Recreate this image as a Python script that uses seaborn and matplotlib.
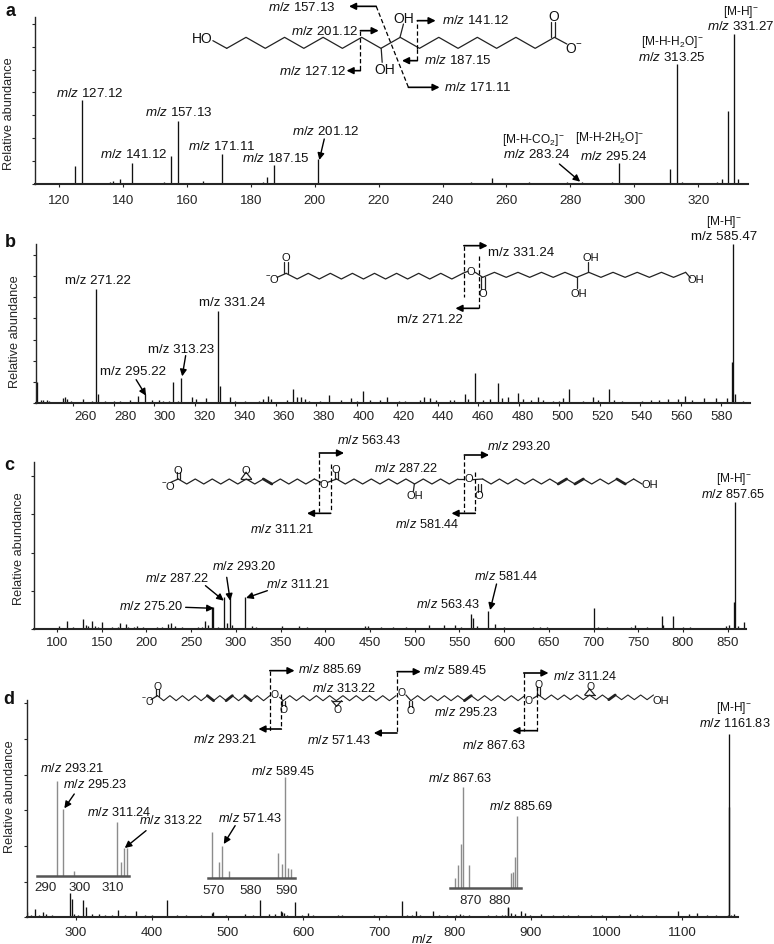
import numpy as np
import pandas as pd
import seaborn as sns
import matplotlib.pyplot as plt
from matplotlib.transforms import ScaledTranslation

# main peaks, heights in % of the base peak
a_mz = [125.1, 127.12, 137, 139, 143, 155, 157.13, 165, 171.11, 185, 187.15, 201.12, 249, 255.5, 267, 283.5, 285, 293, 295.24, 311.3, 313.25, 315, 327.5, 329.3, 331.27, 332.5]
a_h = [12, 55.8, 2.5, 3.5, 14, 19, 42, 2.5, 20, 5, 13, 17, 1.3, 4, 1.8, 1.5, 1, 1.5, 14, 10, 80, 1.5, 3.3, 49, 100, 3.3]
a_noise_mz = [114, 116, 118, 121, 123, 129, 131, 134, 136, 141, 146, 149, 152, 153, 160, 163, 167, 169, 174, 177, 179, 183, 184, 192, 195, 199, 203, 207, 212, 218, 223, 228, 233, 238, 243, 247, 252, 258, 262, 271, 275, 279, 289, 301, 305, 309, 318, 322, 326]
a_noise_h = [.6, .5, .7, .6, .5, .8, .5, .6, 1.5, .7, .8, .6, .7, 1.6, .8, .9, 1, .8, .7, .6, .9, 1.1, 1.2, .7, .6, 1, .7, .5, .6, .7, .5, .6, .5, .7, .6, .8, .9, .7, .8, 1.1, .7, 1.2, .8, .7, .6, 1, .9, .7, 1.2]

b_mz = [242.1, 271.22, 272, 292.1, 295.22, 309.3, 313.23, 331.24, 332.3, 337.2, 355.9, 368.6, 386.3, 402.9, 414.7, 433.4, 453.4, 458.4, 469.6, 474.5, 479.4, 489.2, 504.5, 516.7, 524.5, 561.8, 571.6, 577.5, 585.25, 585.47, 586.8]
b_h = [13, 71.7, 5.6, 4.5, 5.6, 13, 16, 58, 10.5, 3.5, 4.6, 8.8, 5, 7.8, 4, 4, 5.7, 18.9, 12.4, 4, 6.3, 4, 9, 4, 9, 4.6, 3, 3, 26, 100, 5.5]
b_noise_mz = [244, 245, 247, 248, 255, 256, 257, 259, 265, 269, 275.5, 280, 283, 288, 299, 302.5, 304.5, 307.5, 311.5, 318.5, 320.5, 325.5, 340, 345, 351.5, 353.5, 357.5, 365.5, 370.5, 372.5, 374.5, 376.5, 382, 392, 397, 400, 406.5, 411.5, 421, 424, 431, 436, 439, 446, 448, 455, 462.5, 465.5, 471.5, 482, 486, 492, 497, 500, 502, 511.5, 519, 527, 531, 541, 545, 549, 553.5, 558.5, 565.5, 582.5, 590.5]
b_noise_h = [2, 2.2, 2, 1.5, 3, 3.8, 2.5, 1.5, 2.5, 1, 1, 1, 1.5, 2, 2, 2, 1, 1, 1.5, 3.5, 2.5, 3, 1.5, 1.5, 1.5, 2.5, 2.5, 2, 3.5, 3.5, 2.5, 1.5, 1.2, 2, 3, 1.5, 2, 2, 1.5, 1.5, 2, 3, 2, 2, 2, 2.5, 2, 2.5, 3, 2.5, 2, 2, 1.5, 1.5, 3, 1.5, 2, 2, 1.5, 1.5, 2, 2, 2.5, 2.5, 2, 3, 1.5]

c_mz = [111, 129, 139, 150, 170, 177.5, 227, 266, 273, 275, 287, 290, 293.5, 310.4, 563, 565, 581.7, 590, 700.8, 777, 778, 789, 857.3, 857.65, 868.5]
c_h = [6.5, 8, 6, 5.8, 5, 4, 5, 6.3, 17, 17, 25, 5, 26, 25, 12, 9, 14.4, 4, 16.8, 10.5, 3, 10.5, 21, 100, 5.2]
c_noise_mz = [88, 95, 102, 118, 125, 132, 135, 142, 146, 155, 162, 168, 180, 186, 190, 196, 204, 212, 218, 224, 232, 240, 248, 258, 262, 269, 280, 296, 318, 323, 330, 338, 352, 371, 380, 396, 405, 445, 448, 462, 476, 490, 516, 533, 545, 552, 570, 600, 612, 632, 640, 648, 660, 680, 705, 715, 728, 742, 746, 760, 800, 808, 818, 848, 852, 862]
c_noise_h = [1, 1, 2, 1.5, 1, 3, 2, 2, 1.5, 1, 1.5, 1.5, 1.5, 1.5, 2.5, 1.5, 1, 1.5, 1.5, 4, 2, 1.5, 1, 1.5, 1.5, 3, 1.5, 3, 2, 1.5, 1, 1, 2.5, 2.5, 1.5, 1, 1, 2.5, 2, 1.5, 1.5, 1.5, 3.5, 3, 3, 1.5, 2.5, 1.5, 1, 1.5, 1.5, 1.5, 1, 1, 1.5, 1.2, 1, 1.5, 3, 1.2, 1.5, 1.2, 1, 2, 3, 2.5]

d_mz = [236, 245.6, 256.6, 292.7, 294.2, 309.2, 313.7, 329.8, 354.9, 378.9, 420, 480, 481, 542.3, 555.3, 570, 572, 589.4, 606.4, 729.6, 748.8, 770.8, 806.9, 870, 870.4, 887, 892, 1094.5, 1161.6, 1161.83, 1168]
d_h = [3, 4.5, 3, 13, 10, 9.6, 5.5, 2, 4.2, 3.6, 9.6, 2.5, 3, 9.6, 2, 3.5, 3, 8.2, 2.5, 8.7, 3.6, 3.6, 2, 5.5, 5, 3.6, 2.5, 3.2, 60, 100, 2]
d_noise_mz = [241, 251, 261, 269, 297.8, 302.8, 320.8, 338.9, 346.9, 364.9, 391, 401, 433, 445, 465, 498, 523, 533, 563, 575, 578, 598, 613, 646, 651, 693.5, 708.5, 736.6, 743.7, 753.8, 778.9, 789, 802, 811, 819, 844, 854, 862, 866, 874, 879, 899.2, 914.2, 929.3, 942.4, 949.4, 962.5, 979.5, 994.6, 1016.7, 1030.8, 1040, 1046.8, 1065, 1109.5, 1119.6, 1132.7, 1144.7, 1159.8, 1165]
d_noise_h = [1.5, 1.5, 2, 1, 2, 1.5, 2, 1, 1, 1, 1.5, 1, 1.5, 1, 1, 1, 2, 1.5, 2, 2.5, 1.5, 1.5, 1.5, 1, 1, 1, 1, 1, 1, 1.5, 1, 1, 1.5, 1.5, 1, 1, 1, 1, 1.5, 2.5, 2, 1.5, 2, 1, 1.5, 1.5, 1.5, 1.5, 1.5, 1, 2, 1.5, 1.5, 1.5, 2, 2.5, 1.5, 1.5, 1.5, 1.5]

# zoomed insets of panel d
i1_mz = [293.21, 295.23, 298.5, 311.24, 312.5, 313.5, 314.3]
i1_h = [95, 67, 5, 54, 14, 28, 28]
i2_mz = [569.4, 571.43, 572.3, 574, 587.6, 588.7, 589.45, 590.4, 591]
i2_h = [46, 16, 32, 7, 25, 14, 101, 10, 9]
i3_mz = [865, 865.8, 867, 867.63, 869.7, 883.8, 884.5, 885.2, 885.69]
i3_h = [10, 23, 44, 101, 23, 15, 16, 31, 72]

W, H = 774, 945

sns.set_style("ticks")
plt.rcParams["font.family"] = ["Liberation Sans", "DejaVu Sans"]
plt.rcParams["mathtext.fontset"] = "custom"
plt.rcParams["mathtext.rm"] = "Liberation Sans"
plt.rcParams["mathtext.it"] = "Liberation Sans:italic"
plt.rcParams["mathtext.bf"] = "Liberation Sans:bold"

fig = plt.figure(figsize=(W / 100, H / 100), dpi=100)


def pix_axes(left, right, top, bottom):
    return fig.add_axes([left / W, 1 - bottom / H, (right - left) / W, (bottom - top) / H])


def sticks(ax, mz, h, color="#111111", lw=0.95):
    df = pd.DataFrame({"mz": np.repeat(mz, 2),
                       "y": np.column_stack([np.zeros(len(h)), h]).ravel(),
                       "peak": np.repeat(np.arange(len(mz)), 2)})
    sns.lineplot(data=df, x="mz", y="y", units="peak", estimator=None, color=color,
                 lw=lw, ax=ax, legend=False, solid_capstyle="butt")
    ax.set_xlabel("")
    ax.set_ylabel("")


def panel(mz, h, nmz, nh, box, xlim, xt, ystep, base_top, pad=4):
    left, right, top, bottom = box
    ax = pix_axes(left, right, top, bottom)
    sticks(ax, mz + nmz, h + nh)
    ax.set_xlim(*xlim)
    ymax = (bottom - top) / (bottom - base_top) * 100
    ax.set_ylim(0, ymax)
    ax.set_xticks(xt)
    ax.set_yticks(np.arange(0, ymax, ystep))
    ax.set_yticklabels([])
    ax.tick_params(axis="x", labelsize=9.6, length=2.2, width=0.8, pad=pad, color="#222222")
    ax.tick_params(axis="y", length=2.5, width=0.8)
    ax.spines["left"].set_linewidth(1.0)
    ax.spines["bottom"].set_linewidth(1.5)
    sns.despine(ax=ax)
    ax.patch.set_alpha(0)
    return ax


def inset(mz, h, box, xlim, xt):
    ax = pix_axes(*box)
    sticks(ax, mz, h, color="#8c8c8c", lw=1.0)
    ax.set_xlim(*xlim)
    ax.set_ylim(0, 110)
    ax.set_xticks(xt)
    ax.set_yticks([])
    ax.tick_params(axis="x", labelsize=9.6, length=0, pad=4)
    ax.spines["bottom"].set_linewidth(1.8)
    ax.spines["bottom"].set_color("#555555")
    sns.despine(ax=ax, left=True)
    ax.patch.set_alpha(0)
    return ax


panel(a_mz, a_h, a_noise_mz, a_noise_h, (34.6, 747.5, 18, 185.3), (112.4, 335.4),
      np.arange(120, 321, 20), 15.27, 35, pad=5)
ax_b = panel(b_mz, b_h, b_noise_mz, b_noise_h, (35.6, 750, 245, 404), (241.4, 594.1),
             np.arange(260, 581, 20), 13.3, 245, pad=2.5)
# tick labels of b sit to the right of their ticks, more so on the left side
for t, lab in zip(ax_b.get_xticks(), ax_b.get_xticklabels()):
    shift = 12 * (580 - t) / 320 / 100
    lab.set_transform(lab.get_transform() + ScaledTranslation(shift, 0, fig.dpi_scale_trans))
panel(c_mz, c_h, c_noise_mz, c_noise_h, (33.7, 746, 462.7, 630), (74, 870.5),
      np.arange(100, 851, 50), 30, 502.7, pad=3)
panel(d_mz, d_h, d_noise_mz, d_noise_h, (26.7, 738, 700.7, 918.3), (235, 1173.6),
      np.arange(300, 1101, 100), 19.45, 735, pad=4)

inset(i1_mz, i1_h, (37, 129, 766.7, 876.7), (287.3, 315), [290, 300, 310])
inset(i2_mz, i2_h, (208, 294.5, 769, 879), (568.36, 592.05), [570, 580, 590])
inset(i3_mz, i3_h, (449.5, 520.5, 779, 889), (863, 887), [870, 880])

# overlay for structures, arrows and labels
ov = fig.add_axes([0, 0, 1, 1], zorder=10)
ov.set_xlim(0, W)
ov.set_ylim(H, 0)
ov.axis("off")


def P(zx, zy, off):
    return zx / 2.02, off + zy / 3


def label(s, zx, zy, off, fs=9.6, **kw):
    x, y = P(zx, zy, off)
    ov.text(x, y, s, fontsize=fs, ha="center", va="center", color="#111111", **kw)


def arrow(z0, z1, off, lw=1.2, ms=10):
    ov.annotate("", xy=P(*z1, off), xytext=P(*z0, off),
                arrowprops=dict(arrowstyle="-|>", lw=lw, color="k", mutation_scale=ms,
                                shrinkA=0, shrinkB=0))


def dash(z0, z1, off):
    x0, y0 = P(*z0, off)
    x1, y1 = P(*z1, off)
    ov.plot([x0, x1], [y0, y1], color="k", lw=0.9, ls=(0, (3.5, 2)))


def bond(z0, z1, off, lw=0.9):
    x0, y0 = P(*z0, off)
    x1, y1 = P(*z1, off)
    ov.plot([x0, x1], [y0, y1], color="#222222", lw=lw)


def chain(x0, y0, x1, y1, n, off, lw=0.9, thick=()):
    xs = np.linspace(x0, x1, n + 1)
    ys = [y0 if i % 2 == 0 else y1 for i in range(n + 1)]
    px = [P(x, y, off) for x, y in zip(xs, ys)]
    ov.plot([p[0] for p in px], [p[1] for p in px], color="#222222", lw=lw)
    # double bonds show up as heavier segments
    for i in thick:
        ov.plot([px[i][0], px[i + 1][0]], [px[i][1], px[i + 1][1]], color="#222222", lw=2.0)


def mzit(v):
    return r"$\mathit{m/z}$ " + v


MH = "[M-H]$^{-}$"

# panel a
off = 0
label("a", 22, 33, off, fs=13, fontweight="bold")
ov.text(*P(19, 342, off), "Relative abundance", fontsize=9.2, rotation=90, ha="center", va="center")
chain(458, 148, 1120, 115, 17, off)
bond((430, 125), (458, 148), off)
bond((808, 115), (815, 75), off)
bond((770, 148), (772, 190), off)
bond((1120, 115), (1145, 135), off)
bond((1113, 115), (1113, 70), off)
bond((1122, 115), (1122, 70), off)
label("HO", 408, 118, off, fs=10)
label("OH", 816, 58, off, fs=10)
label("OH", 778, 210, off, fs=10)
label("O", 1118, 52, off, fs=10)
label("O$^{-}$", 1160, 147, off, fs=10)
for s, x, y in [("157.13", 610, 22), ("141.12", 960, 60), ("201.12", 655, 95), ("187.15", 925, 180),
                ("127.12", 632, 215), ("171.11", 965, 262), ("127.12", 182, 280), ("141.12", 270, 465),
                ("157.13", 360, 338), ("171.11", 448, 440), ("187.15", 558, 477), ("201.12", 657, 395),
                ("283.24", 1085, 465), ("295.24", 1240, 468), ("313.25", 1358, 172), ("331.27", 1497, 78)]:
    label(mzit(s), x, y, off)
label("[M-H-CO$_{2}$]$^{-}$", 1077, 420, off, fs=8.6)
label("[M-H-2H$_{2}$O]$^{-}$", 1232, 413, off, fs=8.6)
label("[M-H-H$_{2}$O]$^{-}$", 1358, 125, off, fs=8.6)
label(MH, 1497, 35, off, fs=8.6)
dash((760, 22), (825, 265), off)
arrow((760, 22), (705, 22), off)
arrow((825, 265), (888, 265), off)
dash((843, 150), (843, 65), off)
arrow((843, 65), (880, 65), off)
dash((728, 95), (728, 215), off)
arrow((728, 95), (765, 95), off)
arrow((728, 215), (700, 215), off)
dash((843, 150), (843, 185), off)
arrow((843, 185), (812, 185), off)
arrow((655, 420), (645, 483), off, lw=1.0)
arrow((1130, 495), (1172, 548), off, lw=1.0)

# panel b
off = 215
label("b", 20, 82, off, fs=13, fontweight="bold")
ov.text(*P(30, 350, off), "Relative abundance", fontsize=9.2, rotation=90, ha="center", va="center")
chain(578, 178, 935, 195, 16, off)
chain(975, 190, 1165, 175, 8, off)
chain(1165, 190, 1385, 175, 9, off)
bond((560, 190), (578, 178), off)
bond((574, 178), (574, 145), off)
bond((581, 178), (581, 145), off)
bond((935, 178), (945, 172), off)
bond((960, 175), (975, 190), off)
bond((972, 190), (972, 225), off)
bond((979, 190), (979, 225), off)
bond((1165, 190), (1165, 222), off)
bond((1188, 175), (1188, 145), off)
bond((1385, 175), (1395, 192), off)
label("$^{-}$O", 550, 192, off, fs=8)
label("O", 577, 130, off, fs=8)
label("O", 952, 172, off, fs=8)
label("O", 975, 237, off, fs=8)
label("OH", 1193, 130, off, fs=8)
label("OH", 1170, 237, off, fs=8)
label("OH", 1405, 195, off, fs=8)
for s, x, y in [("m/z 331.24", 1053, 113), ("m/z 271.22", 868, 315), ("m/z 271.22", 198, 197),
                ("m/z 331.24", 468, 265), ("m/z 313.23", 365, 405), ("m/z 295.22", 268, 470),
                ("m/z 585.47", 1462, 65)]:
    label(s, x, y, off)
label(MH, 1462, 20, off, fs=8.6)
dash((937, 95), (937, 250), off)
arrow((937, 95), (985, 95), off)
dash((967, 125), (967, 283), off)
arrow((967, 283), (920, 283), off)
arrow((375, 425), (368, 487), off, lw=1.0)
arrow((275, 497), (295, 545), off, lw=1.0)

# panel c
off = 430
label("c", 18, 108, off, fs=13, fontweight="bold")
ov.text(*P(38, 355, off), "Relative abundance", fontsize=9.2, rotation=90, ha="center", va="center")
chain(360, 150, 635, 165, 16, off, thick=[10])
chain(680, 150, 925, 165, 14, off)
chain(975, 150, 1280, 165, 18, off, thick=[9, 11, 16])
bond((345, 160), (360, 150), off)
bond((357, 150), (357, 130), off)
bond((363, 150), (363, 130), off)
bond((487, 150), (508, 150), off)
bond((487, 150), (497, 130), off)
bond((508, 150), (497, 130), off)
bond((635, 150), (648, 160), off)
bond((662, 160), (680, 150), off)
bond((677, 150), (677, 130), off)
bond((683, 150), (683, 130), off)
bond((837, 165), (835, 187), off)
bond((925, 150), (938, 150), off)
bond((955, 152), (975, 150), off)
bond((965, 165), (965, 190), off)
bond((971, 165), (971, 190), off)
bond((1280, 150), (1297, 165), off)
label("$^{-}$O", 340, 167, off, fs=8)
label("O", 360, 122, off, fs=8)
label("O", 497, 122, off, fs=8)
label("O", 655, 165, off, fs=8)
label("O", 678, 120, off, fs=8)
label("OH", 838, 198, off, fs=8)
label("O", 947, 148, off, fs=8)
label("O", 967, 197, off, fs=8)
label("OH", 1312, 165, off, fs=8)
for s, x, y in [("563.43", 745, 30), ("293.20", 1050, 48), ("287.22", 820, 115), ("311.21", 570, 298),
                ("581.44", 863, 285), ("287.22", 358, 445), ("293.20", 493, 410), ("311.21", 603, 465),
                ("275.20", 305, 530), ("563.43", 905, 523), ("581.44", 1023, 440), ("857.65", 1480, 195)]:
    label(mzit(s), x, y, off, fs=9.2)
label(MH, 1483, 148, off, fs=8.6)
dash((645, 72), (645, 250), off)
arrow((645, 72), (695, 72), off)
dash((668, 105), (668, 250), off)
arrow((668, 253), (620, 253), off)
dash((938, 78), (938, 250), off)
arrow((938, 78), (988, 78), off)
dash((960, 130), (960, 250), off)
arrow((960, 253), (912, 253), off)
arrow((415, 470), (452, 515), off, lw=1.0)
arrow((458, 445), (465, 515), off, lw=1.0)
arrow((540, 485), (497, 507), off, lw=1.0)
arrow((375, 535), (432, 538), off, lw=1.0)
arrow((1003, 465), (990, 543), off, lw=1.0)

# panel d
off = 660
label("d", 18, 118, off, fs=13, fontweight="bold")
ov.text(*P(20, 410, off), "Relative abundance", fontsize=9.2, rotation=90, ha="center", va="center")
chain(318, 110, 545, 125, 18, off, lw=0.8, thick=[8, 11, 14])
chain(572, 125, 800, 110, 17, off, lw=0.8)
chain(830, 125, 1060, 110, 17, off, lw=0.8, thick=[8])
chain(1088, 108, 1320, 122, 18, off, lw=0.8, thick=[11])
bond((305, 122), (318, 110), off)
bond((315, 110), (315, 90), off)
bond((321, 110), (321, 90), off)
bond((565, 115), (572, 125), off)
bond((569, 125), (569, 142), off)
bond((575, 125), (575, 142), off)
bond((670, 125), (690, 125), off)
bond((670, 125), (680, 142), off)
bond((690, 125), (680, 142), off)
bond((820, 108), (830, 125), off)
bond((827, 125), (827, 145), off)
bond((833, 125), (833, 145), off)
bond((1077, 118), (1088, 108), off)
bond((1085, 108), (1085, 85), off)
bond((1091, 108), (1091, 85), off)
bond((1181, 108), (1201, 108), off)
bond((1181, 108), (1191, 90), off)
bond((1201, 108), (1191, 90), off)
for z in [(318, 82), (555, 105), (573, 150), (682, 150), (812, 100), (830, 152), (1068, 122), (1088, 75), (1193, 80)]:
    label("O", z[0], z[1], off, fs=7.5)
label("$^{-}$O", 298, 122, off, fs=7)
label("OH", 1335, 122, off, fs=8)
for s, x, y in [("885.69", 668, 28), ("589.45", 920, 32), ("311.24", 1182, 48), ("313.22", 695, 85),
                ("295.23", 942, 157), ("293.21", 455, 238), ("571.43", 685, 240), ("867.63", 998, 257),
                ("293.21", 147, 325), ("295.23", 193, 372), ("311.24", 240, 458), ("313.22", 345, 483),
                ("589.45", 573, 335), ("571.43", 505, 475), ("867.63", 930, 357), ("885.69", 1052, 438),
                ("1161.83", 1485, 190)]:
    label(mzit(s), x, y, off, fs=9.2)
label(MH, 1483, 143, off, fs=8.6)
label(r"$\mathit{m/z}$", 852, 838, off, fs=9.2)
dash((545, 35), (545, 215), off)
arrow((545, 35), (595, 35), off)
dash((568, 105), (568, 210), off)
arrow((568, 210), (522, 210), off)
dash((802, 38), (802, 222), off)
arrow((802, 38), (850, 38), off)
arrow((802, 222), (755, 222), off)
dash((1058, 42), (1058, 215), off)
arrow((1058, 42), (1108, 42), off)
dash((1085, 80), (1085, 215), off)
arrow((1085, 215), (1035, 215), off)
arrow((150, 405), (130, 448), off, lw=1.0)
arrow((295, 515), (252, 567), off, lw=1.0)
arrow((475, 500), (452, 555), off, lw=1.0)

fig.savefig("out.png", dpi=100)
